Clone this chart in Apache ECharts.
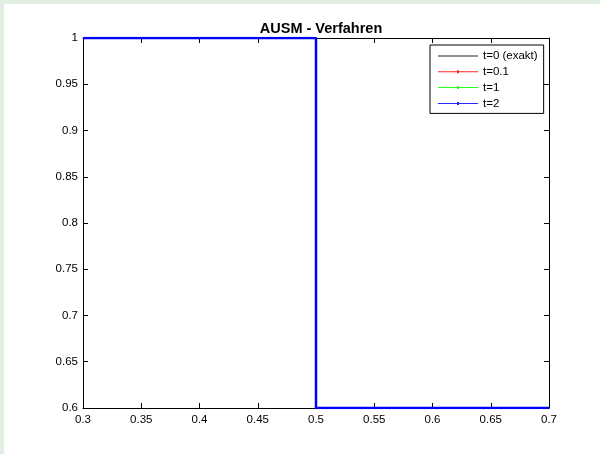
<!DOCTYPE html>
<html><head><meta charset="utf-8">
<script src="https://cdn.jsdelivr.net/npm/echarts@6/dist/echarts.min.js"></script>
<style>html,body{margin:0;padding:0;background:#fff}#c{width:600px;height:454px}</style>
</head><body><div id="c"></div>
<script>
const titleText = 'AUSM - Verfahren';
const seriesNames = ['t=0 (exakt)', 't=0.1', 't=1', 't=2'];
const seriesColors = ['#000000', '#ff0000', '#00ff00', '#0000ff'];
const xPos = [0.3, 0.5, 0.5, 0.7];
const yExact = [1, 1, 0.6, 0.6];
const yT01 = [1, 1, 0.6, 0.6];
const yT1 = [1, 1, 0.6, 0.6];
const yT2 = [1, 1, 0.6, 0.6];
const xTicks = [0.3, 0.35, 0.4, 0.45, 0.5, 0.55, 0.6, 0.65, 0.7];
const yTicks = [0.6, 0.65, 0.7, 0.75, 0.8, 0.85, 0.9, 0.95, 1];

const allY = [yExact, yT01, yT1, yT2];
const font = '"Liberation Sans", Arial, Helvetica, sans-serif';
const chart = echarts.init(document.getElementById('c'), null, {renderer: 'canvas'});

const iconLine = 'path://M0,0L0.01,0L0.01,3L0,3Z M0,1L40,1L40,2L0,2Z';
const iconDot = 'path://M0,0L0.01,0L0.01,3L0,3Z M0,1L40,1L40,2L0,2Z M19,0L21,0L21,3L19,3Z';

const axisCommon = {
  axisLine: {show: true, onZero: false, lineStyle: {color: '#000', width: 1}},
  axisTick: {show: true, inside: true, length: 5, lineStyle: {color: '#000'}},
  splitLine: {show: false}
};

const series = allY.map((ys, i) => ({
  name: seriesNames[i],
  type: 'line',
  data: xPos.map((x, j) => [x, ys[j]]),
  symbol: 'none',
  itemStyle: {color: seriesColors[i]},
  lineStyle: {color: seriesColors[i], width: i === 3 ? 2.5 : 1.5},
  animation: false,
  z: 2 + i
}));

chart.setOption({
  backgroundColor: '#ffffff',
  animation: false,
  title: {
    text: titleText, left: 316, top: 16, textAlign: 'center',
    textStyle: {fontFamily: font, fontSize: 14.5, fontWeight: 'bold', color: '#000'}
  },
  graphic: [
    {type: 'rect', shape: {x: 0, y: 0, width: 600, height: 4}, style: {fill: '#e3eee3'}, silent: true},
    {type: 'rect', shape: {x: 0, y: 0, width: 4, height: 454}, style: {fill: '#e3eee3'}, silent: true}
  ],
  legend: {
    data: seriesNames.map((n, i) => ({name: n, icon: i === 0 ? iconLine : iconDot, itemStyle: {color: seriesColors[i], opacity: 0.85}})),
    orient: 'vertical',
    left: 430, top: 45,
    itemWidth: 40, itemHeight: 3, itemGap: 1.8,
    symbolKeepAspect: false,
    padding: [4, 6, 3, 8],
    backgroundColor: '#fff',
    borderColor: '#000', borderWidth: 1,
    textStyle: {fontFamily: font, fontSize: 11.5, color: '#000', lineHeight: 14},
    z: 10
  },
  grid: {left: 83, right: 51, top: 38, bottom: 46, containLabel: false},
  xAxis: [
    Object.assign({type: 'value', position: 'bottom', min: 0.3, max: 0.7, interval: 0.05,
      axisLabel: {fontFamily: font, fontSize: 11.5, color: '#000', margin: 6,
        formatter: v => { const t = xTicks.find(k => Math.abs(k - v) < 1e-9); return t === undefined ? '' : String(t); }}}, axisCommon),
    Object.assign({type: 'value', position: 'top', min: 0.3, max: 0.7, interval: 0.05,
      axisLabel: {show: false}}, axisCommon)
  ],
  yAxis: [
    Object.assign({type: 'value', position: 'left', min: 0.6, max: 1, interval: 0.05,
      axisLabel: {fontFamily: font, fontSize: 11.5, color: '#000', margin: 5,
        formatter: v => { const t = yTicks.find(k => Math.abs(k - v) < 1e-9); return t === undefined ? '' : String(t); }}}, axisCommon),
    Object.assign({type: 'value', position: 'right', min: 0.6, max: 1, interval: 0.05,
      axisLabel: {show: false}}, axisCommon)
  ],
  series: series
});
</script></body></html>
